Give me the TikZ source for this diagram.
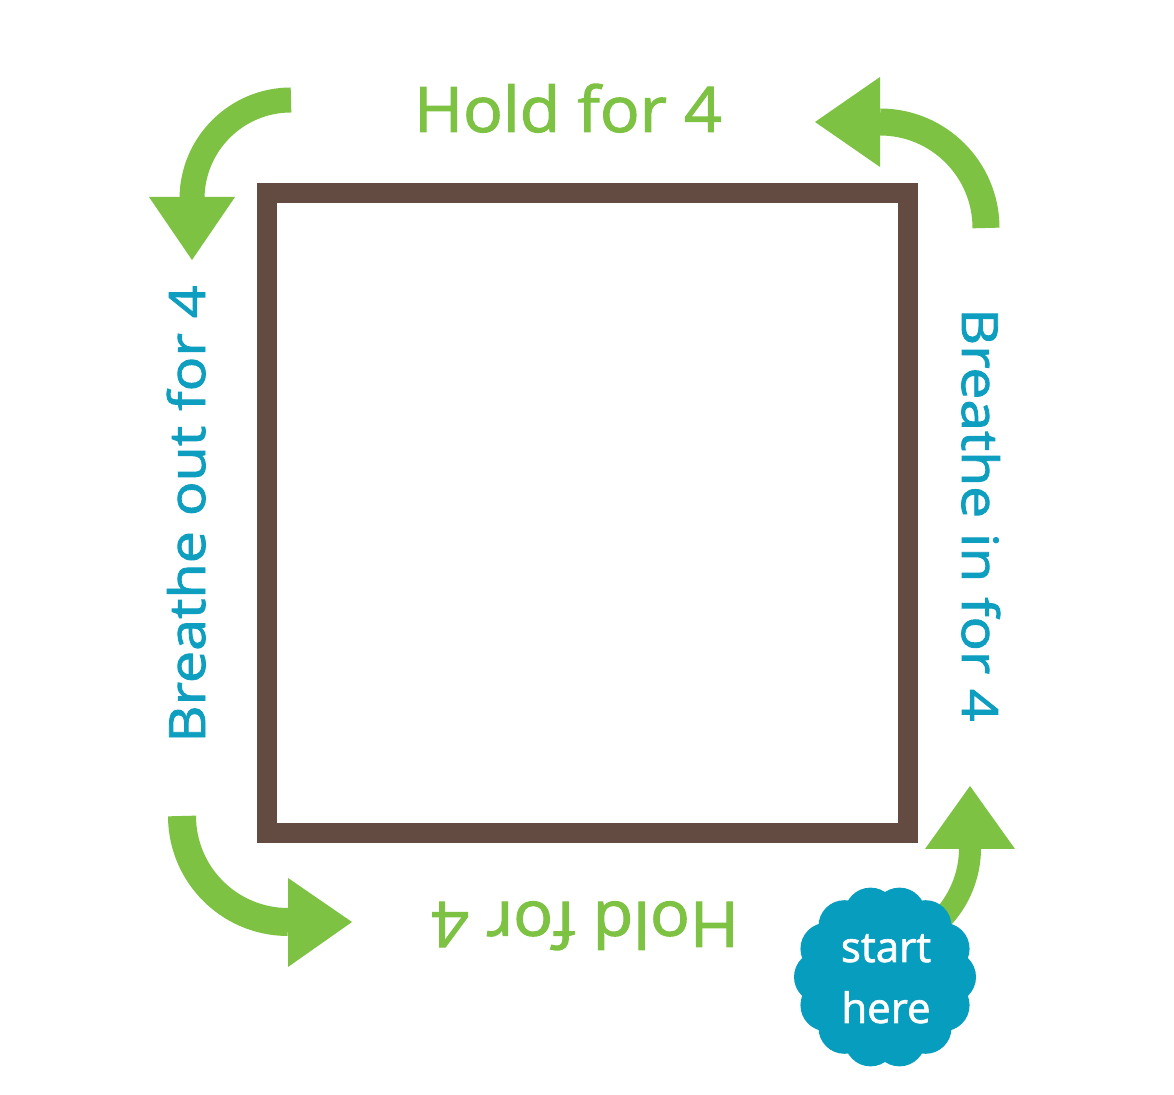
\documentclass[tikz,border=0pt]{standalone}
\usepackage{fontspec}
\setmainfont{Open Sans}
\newfontfamily\semifont[FakeBold=1.6]{Open Sans}
\definecolor{sqbrown}{RGB}{100,75,65}
\definecolor{leaf}{RGB}{125,194,66}
\definecolor{teal}{RGB}{14,158,192}
\definecolor{badge}{RGB}{6,157,190}
\tikzset{
  shaft/.style={draw=leaf, line cap=butt},
  head/.style={fill=leaf, draw=none},
  holdtxt/.style={text=leaf, font=\semifont\fontsize{63}{70}\selectfont, inner sep=0pt},
  breathtxt/.style={text=teal, font=\semifont\fontsize{50}{60}\selectfont, inner sep=0pt},
  badgetxt/.style={text=white, font=\semifont\fontsize{42}{48}\selectfont, inner sep=0pt}
}
\begin{document}
\begin{tikzpicture}[x=1pt,y=1pt]
\fill[white] (0,0) rectangle (1174,1094);
\useasboundingbox (0,0) rectangle (1174,1094);
% square
\draw[sqbrown, line width=20pt, line join=miter] (267,261) rectangle (908,901);
% top-left arrow
\draw[shaft, line width=25pt] (291,994) arc[start angle=90, end angle=180, radius=99pt];
\fill[head] (149,897) -- (235,897) -- (192,834) -- cycle;
% top-right arrow
\draw[shaft, line width=27pt] (986,866) arc[start angle=0, end angle=90, radius=106pt];
\fill[head] (880,1017) -- (880,927) -- (815,972) -- cycle;
% bottom-left arrow
\draw[shaft, line width=28pt] (182,278) arc[start angle=180, end angle=270, radius=106pt];
\fill[head] (288,216) -- (288,127) -- (352,172) -- cycle;
% bottom-right arrow
\draw[shaft, line width=22pt] (970,246) arc[start angle=0, end angle=-55, radius=103pt];
\fill[head] (925,245) -- (1015,245) -- (970,308) -- cycle;
% labels
\node[holdtxt, anchor=base, xscale=1.05, transform shape] (holdtop) at (568,962) {Hold for 4};
\node[holdtxt, anchor=base, rotate=180, xscale=1.05, transform shape] (holdbot) at (585,192) {Hold for 4};
\node[breathtxt, anchor=base, rotate=-90, xscale=1.14, transform shape] (breathin) at (962,579) {Breathe in for 4};
\node[breathtxt, anchor=base, rotate=90, xscale=1.15, transform shape] (breathout) at (205,580) {Breathe out for 4};
% badge
\fill[badge] (885,117) circle[radius=75pt];
\foreach \a in {0,25.714,...,359} {
  \fill[badge] (885,117) ++(\a:65pt) circle[radius=26pt];
}
\node[badgetxt, anchor=base] (start) at (886,132) {start};
\node[badgetxt, anchor=base] (here) at (886,71) {here};
\end{tikzpicture}
\end{document}
